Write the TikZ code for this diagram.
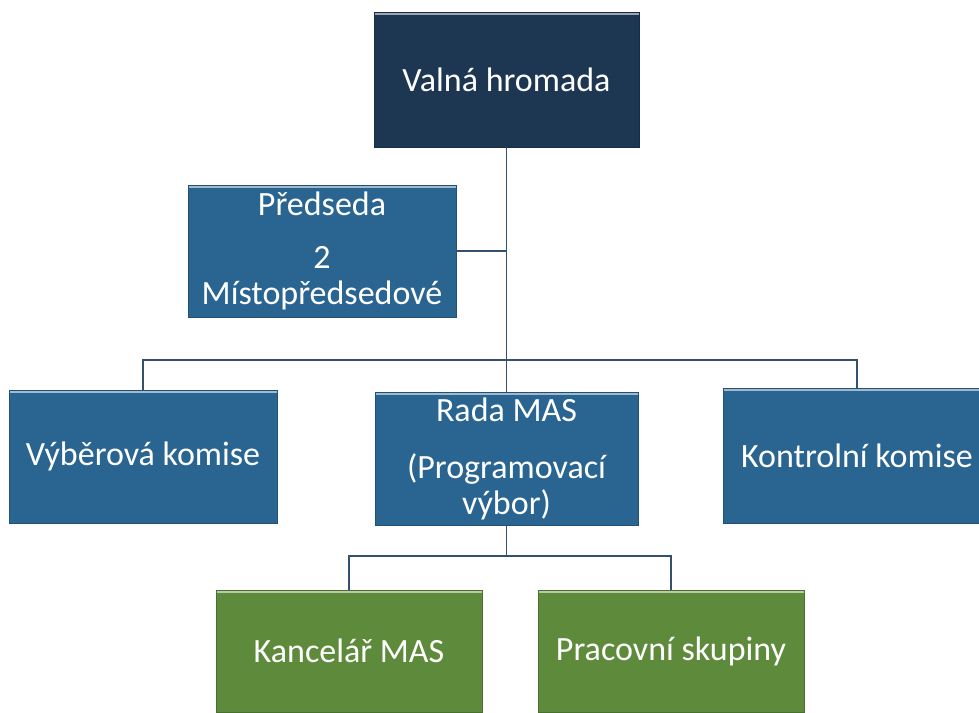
\documentclass[tikz,border=0pt]{standalone}
\usepackage{fontspec}
\setmainfont{Carlito}
\definecolor{navy}{HTML}{1D3753}
\definecolor{steel}{HTML}{2A6592}
\definecolor{leaf}{HTML}{5E8B3B}
\definecolor{wire}{HTML}{34506E}
\tikzset{
  orgbox/.style={draw=#1!80!black, line width=0.8pt, fill=#1, text=white, align=center,
    font=\fontsize{34}{36}\selectfont, inner sep=0pt,
    path picture={\draw[#1!45!white, line width=1.6pt]
      ([yshift=-2pt]path picture bounding box.north west) -- ([yshift=-2pt]path picture bounding box.north east);}},
  wirestyle/.style={draw=wire, line width=1.4pt}
}
\begin{document}
\begin{tikzpicture}[x=1pt,y=-1pt]
\useasboundingbox (0,0) rectangle (979,712);
\clip (0,0) rectangle (979,712);
\fill[white] (0,0) rectangle (979,712);
\node[orgbox=navy, minimum width=265pt, minimum height=135pt] (vh) at (506.5,79.5) {Valná hromada};
\node[orgbox=steel, minimum width=268pt, minimum height=132pt] (pr) at (322,251) {Předseda\\[17pt]2\\Místopředsedové};
\node[orgbox=steel, minimum width=268pt, minimum height=133pt] (vk) at (143,456.5) {Výběrová komise};
\node[orgbox=steel, minimum width=263pt, minimum height=133pt] (rada) at (506.5,458.5) {Rada MAS\\[21pt](Programovací\\výbor)};
\node[orgbox=steel, minimum width=268pt, minimum height=135pt] (kk) at (857,455.5) {Kontrolní komise};
\node[orgbox=leaf, minimum width=266pt, minimum height=122pt] (kanc) at (349,651) {Kancelář MAS};
\node[orgbox=leaf, minimum width=266pt, minimum height=122pt] (prac) at (671,651) {Pracovní skupiny};
\coordinate (bar) at (0,360);
\coordinate (bar2) at (0,556);
\draw[wirestyle] (vh.south) -- (rada.north);
\draw[wirestyle] (pr.east) -- (pr.east -| vh.south);
\draw[wirestyle] (vk.north) -- (vk.north |- bar) -- (kk.north |- bar) -- (kk.north);
\draw[wirestyle] (rada.south) -- (rada.south |- bar2);
\draw[wirestyle] (kanc.north) -- (kanc.north |- bar2) -- (prac.north |- bar2) -- (prac.north);
\end{tikzpicture}
\end{document}
